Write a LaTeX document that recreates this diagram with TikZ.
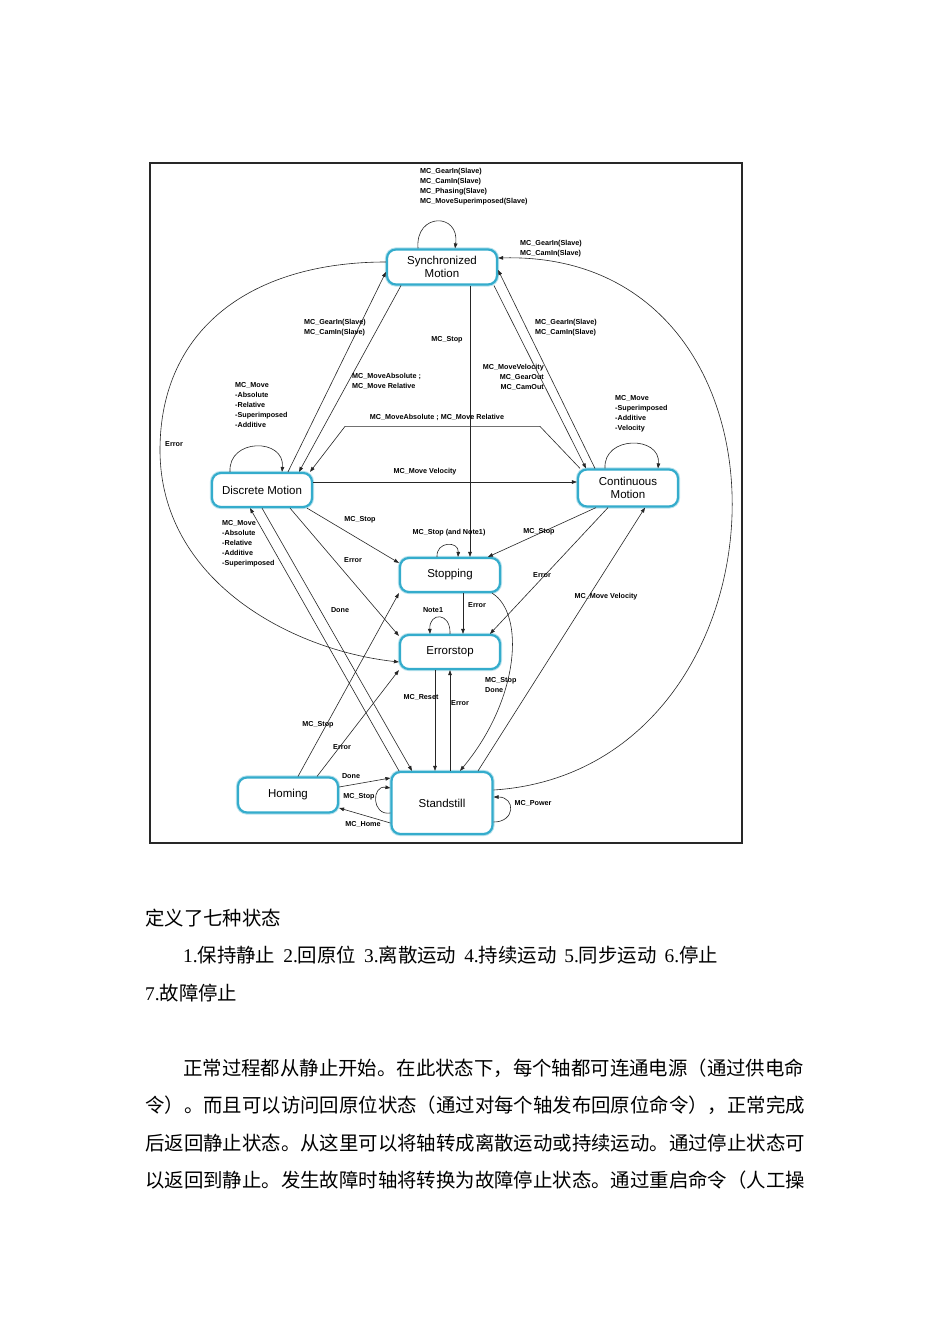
\documentclass[tikz,border=0pt]{standalone}
\usepackage{fontspec}
\setmainfont{Liberation Serif}
\setsansfont{Liberation Sans}
\newfontfamily\cjk{Noto Sans CJK SC}
\usetikzlibrary{arrows.meta}
\definecolor{stateblue}{RGB}{52,172,204}
\definecolor{framegray}{RGB}{40,40,40}

\begin{document}
\begin{tikzpicture}[
  x=1pt, y=-1pt,
  state_box/.style={draw=stateblue, line width=2.2pt, rounded corners=9pt, fill=white, inner sep=0pt, align=center,
    font=\sffamily\fontsize{11.5}{13}\selectfont, preaction={draw=stateblue!35, line width=4.2pt}},
  edge_label/.style={inner sep=0pt, align=left, font=\sffamily\bfseries\fontsize{7.2}{10}\selectfont},
  trans/.style={draw=black!85, line width=0.6pt, -{Triangle[length=5pt,width=3.6pt]}},
  cn_text/.style={inner sep=0pt, anchor=west, font=\fontsize{19.4}{20}\selectfont},
]
\fill [white] (0,0) rectangle (950,1344);
\useasboundingbox (0,0) rectangle (950,1344);
\draw [framegray, line width=2.2pt] (150,163) rectangle (742,843);

% states
\node (sync) [state_box, minimum width=110pt, minimum height=35pt] at (442,267) {Synchronized\\Motion};
\node (disc) [state_box, minimum width=100pt, minimum height=34pt] at (262,490) {Discrete Motion};
\node (cont) [state_box, minimum width=100pt, minimum height=37pt] at (628,488) {Continuous\\Motion};
\node (stop) [state_box, minimum width=100pt, minimum height=34pt] at (450,575) {Stopping};
\node (err) [state_box, minimum width=100pt, minimum height=34pt] at (450,652) {Errorstop};
\node (hom) [state_box, minimum width=100pt, minimum height=35pt] at (288,795) {Homing};
\node (stand) [state_box, minimum width=101pt, minimum height=62pt] at (442,803) {Standstill};

% transitions around synchronized motion
\draw [trans] ([xshift=-24pt]sync.north) .. controls +(-3,-36) and +(5,-36) .. ([xshift=13pt]sync.north);
\draw [trans] ([xshift=26pt]disc.north) -- ([yshift=-5pt]sync.west);
\draw [trans] ([xshift=-41pt]sync.south) -- ([xshift=37pt]disc.north);
\draw [trans] ([xshift=-33pt]cont.north) -- ([yshift=-3pt]sync.east);
\draw [trans] ([xshift=52pt]sync.south) -- ([xshift=-42pt]cont.north);
\draw [trans] ([xshift=28pt]sync.south) -- ([xshift=20pt]stop.north);
\draw [trans] ([yshift=5pt]sync.west) .. controls (250,262) and (160,330) .. (160,450)
  .. controls (160,580) and (290,650) .. ([yshift=-10pt]err.west);
\draw [trans] ([yshift=13pt]stand.east) .. controls (800,770) and (820,250) .. ([yshift=9pt]sync.east);

% discrete and continuous motion
\draw [trans] ([xshift=-32pt]disc.north) .. controls +(-2,-34) and +(3,-34) .. ([xshift=20pt]disc.north);
\draw [trans] ([xshift=-23pt]cont.north) .. controls +(-2,-33) and +(3,-33) .. ([xshift=30pt]cont.north);
\draw [trans] ([xshift=-48pt]cont.north) -- ++(-40,-42) -- ++(-195,0) -- ([xshift=48pt]disc.north);
\draw [trans] ([yshift=8pt]disc.east) -- ([yshift=6pt]cont.west);
\draw [trans] ([xshift=45pt]disc.south) -- ([yshift=-6pt]stop.north west);
\draw [trans] ([xshift=28pt]disc.south) -- ([yshift=-2pt]err.north west);
\draw [trans] ([xshift=-43pt]stand.north) -- ([xshift=-12pt]disc.south);
\draw [trans] (disc.south) -- ([xshift=-30pt]stand.north);
\draw [trans] ([xshift=-32pt]cont.south) -- ([xshift=38pt]stop.north);
\draw [trans] ([xshift=-20pt]cont.south) -- ([xshift=40pt]err.north);
\draw [trans] ([xshift=36pt]stand.north) -- ([xshift=17pt]cont.south);

% stopping, errorstop, standstill, homing
\draw [trans] ([xshift=-13pt]stop.north) .. controls +(-1,-16) and +(1,-16) .. ([xshift=8pt]stop.north);
\draw [trans] ([xshift=13pt]stop.south) -- ([xshift=13pt]err.north);
\draw [trans] (err.north) .. controls +(1,-22) and +(-1,-22) .. ([xshift=-20pt]err.north);
\draw [trans] ([xshift=42pt]stop.south) .. controls +(33,20) and +(60,-72) .. ([xshift=18pt]stand.north);
\draw [trans] ([xshift=-15pt]err.south) -- ([xshift=-7pt]stand.north);
\draw [trans] ([xshift=8pt]stand.north) -- (err.south);
\draw [trans] ([xshift=10pt]hom.north) -- (stop.south west);
\draw [trans] ([xshift=29pt]hom.north) -- (err.south west);
\draw [trans] ([yshift=8pt]hom.east) -- ([yshift=25pt]stand.west);
\draw [trans] ([yshift=-20pt]stand.west) -- ([yshift=-13pt]hom.east);
\draw [trans] ([yshift=-10pt]stand.west) .. controls +(-19,3) and +(-19,-3) .. ([yshift=15pt]stand.west);
\draw [trans] ([yshift=-19pt]stand.east) .. controls +(22,0) and +(22,0) .. ([yshift=6pt]stand.east);

% labels
\draw (420,168) node (l_sync_loop) [edge_label, anchor=north west] {MC\_GearIn(Slave)\\MC\_CamIn(Slave)\\MC\_Phasing(Slave)\\MC\_MoveSuperimposed(Slave)};
\draw (520,249) node (l_stand_sync) [edge_label, anchor=west] {MC\_GearIn(Slave)\\MC\_CamIn(Slave)};
\draw (366,328) node (l_disc_sync) [edge_label, anchor=east] {MC\_GearIn(Slave)\\MC\_CamIn(Slave)};
\draw (535,328) node (l_cont_sync) [edge_label, anchor=west] {MC\_GearIn(Slave)\\MC\_CamIn(Slave)};
\draw (447,340) node (l_sync_stop) [edge_label] {MC\_Stop};
\draw (352,381) node (l_sync_disc) [edge_label, anchor=west] {MC\_MoveAbsolute ;\\MC\_Move Relative};
\draw (544,377) node (l_sync_cont) [edge_label, anchor=east, align=right] {MC\_MoveVelocity\\MC\_GearOut\\MC\_CamOut};
\draw (437,417) node (l_cont_disc) [edge_label] {MC\_MoveAbsolute ; MC\_Move Relative};
\draw (235,382) node (l_disc_loop) [edge_label, anchor=north west] {MC\_Move\\-Absolute\\-Relative\\-Superimposed\\-Additive};
\draw (615,395) node (l_cont_loop) [edge_label, anchor=north west] {MC\_Move\\-Superimposed\\-Additive\\-Velocity};
\draw (174,444) node (l_error_arc) [edge_label] {Error};
\draw (425,472) node (l_disc_cont) [edge_label] {MC\_Move Velocity};
\draw (360,520) node (l_disc_stop) [edge_label] {MC\_Stop};
\draw (353,560) node (l_disc_err) [edge_label] {Error};
\draw (340,610) node (l_disc_stand) [edge_label] {Done};
\draw (222,520) node (l_stand_disc) [edge_label, anchor=north west] {MC\_Move\\-Absolute\\-Relative\\-Additive\\-Superimposed};
\draw (449,533) node (l_stop_loop) [edge_label] {MC\_Stop (and Note1)};
\draw (539,532) node (l_cont_stop) [edge_label] {MC\_Stop};
\draw (542,575) node (l_cont_err) [edge_label] {Error};
\draw (606,597) node (l_stand_cont) [edge_label] {MC\_Move Velocity};
\draw (477,605) node (l_stop_err) [edge_label] {Error};
\draw (433,610) node (l_err_loop) [edge_label] {Note1};
\draw (485,677) node (l_stop_stand) [edge_label, anchor=north west] {MC\_Stop\\Done};
\draw (421,697) node (l_err_stand) [edge_label] {MC\_Reset};
\draw (460,703) node (l_stand_err) [edge_label] {Error};
\draw (318,725) node (l_hom_stop) [edge_label] {MC\_Stop};
\draw (342,747) node (l_hom_err) [edge_label] {Error};
\draw (351,776) node (l_hom_stand) [edge_label] {Done};
\draw (359,797) node (l_stand_loop) [edge_label] {MC\_Stop};
\draw (363,824) node (l_stand_hom) [edge_label] {MC\_Home};
\draw (533,803) node (l_power) [edge_label] {MC\_Power};

% text below the diagram
\draw (145,918) node (t_head) [cn_text] {\cjk 定义了七种状态};
\draw (183,955) node (t_list) [cn_text] {1.{\cjk 保持静止}\hspace{8pt}2.{\cjk 回原位}\hspace{8pt}3.{\cjk 离散运动}\hspace{8pt}4.{\cjk 持续运动}\hspace{8pt}5.{\cjk 同步运动}\hspace{8pt}6.{\cjk 停止}};
\draw (145,993) node (t_list_end) [cn_text] {7.{\cjk 故障停止}};
\draw (183,1068) node (t_par_a) [cn_text] {\cjk 正常过程都从静止开始。在此状态下，每个轴都可连通电源（通过供电命};
\draw (145,1105) node (t_par_b) [cn_text] {\cjk 令）。而且可以访问回原位状态（通过对每个轴发布回原位命令），正常完成};
\draw (145,1143) node (t_par_c) [cn_text] {\cjk 后返回静止状态。从这里可以将轴转成离散运动或持续运动。通过停止状态可};
\draw (145,1180) node (t_par_d) [cn_text] {\cjk 以返回到静止。发生故障时轴将转换为故障停止状态。通过重启命令（人工操};
\end{tikzpicture}
\end{document}
